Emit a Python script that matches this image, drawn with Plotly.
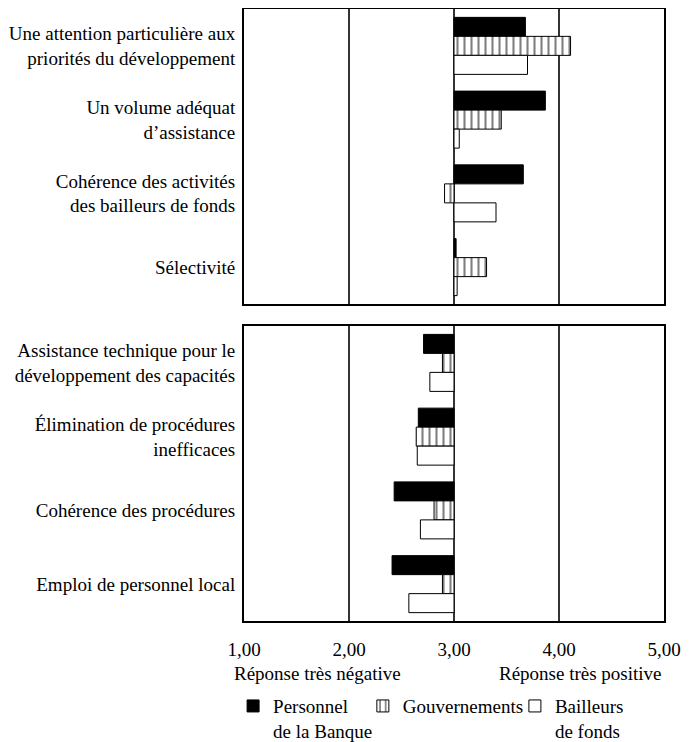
import plotly.graph_objects as go

# ---------------- data ----------------
top_categories = [
    "Une attention particulière aux<br>priorités du développement",
    "Un volume adéquat<br>d’assistance",
    "Cohérence des activités<br>des bailleurs de fonds",
    "Sélectivité",
]
bottom_categories = [
    "Assistance technique pour le<br>développement des capacités",
    "Élimination de procédures<br>inefficaces",
    "Cohérence des procédures",
    "Emploi de personnel local",
]
series_names = ["Personnel<br>de la Banque", "Gouvernements", "Bailleurs<br>de fonds"]

top_banque = [3.68, 3.87, 3.66, 3.02]
top_gouv = [4.11, 3.45, 2.91, 3.31]
top_bailleurs = [3.70, 3.05, 3.40, 3.03]

bottom_banque = [2.71, 2.66, 2.43, 2.41]
bottom_gouv = [2.89, 2.64, 2.81, 2.89]
bottom_bailleurs = [2.77, 2.65, 2.68, 2.57]

neutral = 3.0
x_tickvals = [1, 2, 3, 4, 5]
x_ticktext = ["1,00", "2,00", "3,00", "4,00", "5,00"]
scale_labels = ["Réponse très négative", "Réponse très positive"]

FONT = "Liberation Serif"
FS = 19

styles = [
    dict(color="black", line=dict(color="black", width=1)),
    dict(color="white", line=dict(color="black", width=1),
         pattern=dict(shape="|", fgcolor="black", bgcolor="white", size=7, solidity=0.3)),
    dict(color="white", line=dict(color="black", width=1)),
]
legends = ["legend", "legend2", "legend3"]

fig = go.Figure()

top_series = [top_banque, top_gouv, top_bailleurs]
bottom_series = [bottom_banque, bottom_gouv, bottom_bailleurs]

for i, vals in enumerate(top_series):
    fig.add_trace(go.Bar(
        y=top_categories, x=[v - neutral for v in vals], base=neutral,
        orientation="h", marker=styles[i], name=series_names[i],
        xaxis="x2", yaxis="y2", legend=legends[i], showlegend=True,
    ))
for i, vals in enumerate(bottom_series):
    fig.add_trace(go.Bar(
        y=bottom_categories, x=[v - neutral for v in vals], base=neutral,
        orientation="h", marker=styles[i], name=series_names[i],
        xaxis="x", yaxis="y", showlegend=False,
    ))

axis_common = dict(
    range=[1, 5], showgrid=True, gridcolor="#333333", gridwidth=1.5,
    zeroline=False, showline=True, linecolor="black", linewidth=2, mirror=True,
    tickvals=x_tickvals, automargin=False,
)
yaxis_common = dict(
    autorange="reversed", showline=True, linecolor="black", linewidth=2, mirror=True,
    showgrid=False, ticks="", ticklabelstandoff=3, automargin=False,
)

legend_common = dict(yanchor="top", xanchor="left", valign="top",
                     bgcolor="rgba(0,0,0,0)", font=dict(family=FONT, size=FS))

fig.update_layout(
    width=683, height=734,
    margin=dict(l=236, r=27, t=1, b=121, autoexpand=False),
    paper_bgcolor="white", plot_bgcolor="white",
    font=dict(family=FONT, size=FS, color="black"),
    barmode="group", bargap=0.227, bargroupgap=0,
    xaxis=dict(**axis_common, ticktext=x_ticktext, anchor="y", domain=[0, 1],
               ticks="outside", ticklen=10, tickcolor="rgba(0,0,0,0)"),
    xaxis2=dict(**axis_common, showticklabels=False, anchor="y2", domain=[0, 1]),
    yaxis=dict(**yaxis_common, domain=[0, 0.482], anchor="x"),
    yaxis2=dict(**yaxis_common, domain=[0.518, 1], anchor="x2"),
    showlegend=True,
    legend=dict(**legend_common, x=-0.026, y=-0.108),
    legend2=dict(**legend_common, x=0.283, y=-0.108),
    legend3=dict(**legend_common, x=0.645, y=-0.108),
    annotations=[
        dict(text=scale_labels[0], x=0.174, y=-0.085, xref="paper", yref="paper",
             showarrow=False, xanchor="center", yanchor="middle"),
        dict(text=scale_labels[1], x=0.80, y=-0.085, xref="paper", yref="paper",
             showarrow=False, xanchor="center", yanchor="middle"),
    ],
)

fig.write_html("out.html")
